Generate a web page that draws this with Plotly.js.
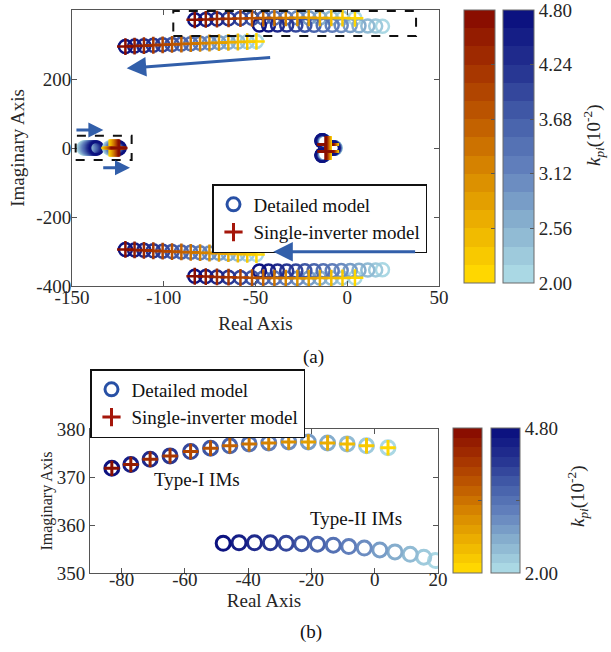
<!DOCTYPE html>
<html>
<head>
<meta charset="utf-8">
<script src="https://cdn.plot.ly/plotly-3.0.1.min.js"></script>
<style>html,body{margin:0;padding:0;background:#fff;}#chart{width:611px;height:652px;}</style>
</head>
<body>
<div id="chart"></div>
<script>
// ---------------- data ----------------
const kpi = [2.0, 2.2, 2.4, 2.6, 2.8, 3.0, 3.2, 3.4, 3.6, 3.8, 4.0, 4.2, 4.4, 4.6, 4.8];

// Type-I IMs (ordered kpi 2.0 -> 4.8)
const typeIRe = [4.2, -2.6, -8.7, -14.9, -21.0, -27.2, -33.5, -39.7, -45.8, -51.9, -58.2, -64.7, -71.0, -77.1, -83.1];
const typeIIm = [376.1, 376.5, 376.9, 377.1, 377.3, 377.3, 377.1, 376.9, 376.5, 376.0, 375.3, 374.4, 373.7, 372.6, 371.8];

// Type-II IMs (detailed model only)
const typeIIRe = [19.2, 15.5, 11.2, 6.4, 1.6, -3.3, -8.2, -13.1, -18.1, -23.1, -28.0, -33.0, -38.0, -42.9, -47.9];
const typeIIIm = [352.6, 353.3, 353.9, 354.4, 354.8, 355.2, 355.5, 355.8, 356.0, 356.1, 356.2, 356.3, 356.3, 356.3, 356.2];

// middle branch (~300j)
const midRe = [-49.5, -54.5, -59.6, -64.8, -69.9, -75.1, -80.2, -85.3, -90.4, -95.5, -100.6, -105.7, -110.8, -115.9, -120.9];
const midIm = [309, 308.2, 307.3, 306.4, 305.4, 304.4, 303.4, 302.3, 301.2, 300.1, 299, 297.8, 296.6, 295.3, 294];

// low-frequency cluster near -140
const lowCircRe = [-143.5, -143.0, -142.6, -142.1, -141.6, -141.1, -140.6, -140.1, -139.6, -139.1, -138.6, -138.1, -137.6, -137.1, -136.6];
const lowCircIm = [0, 0, 0, 0, 0, 0, 0, 0, 0, 0, 0, 0, 0, 0, 0];
const lowCrossRe = [-129.5, -129.1, -128.7, -128.3, -127.9, -127.5, -127.1, -126.7, -126.3, -125.9, -125.5, -125.2, -124.9, -124.6, -124.3];
const lowCrossIm = [0, 0, 0, 0, 0, 0, 0, 0, 0, 0, 0, 0, 0, 0, 0];

// cluster near -12
const nearRe = [-12.4, -12.5, -12.6, -12.7, -12.8, -12.9, -13.0, -13.1, -13.2, -13.3, -13.4, -13.5, -13.6, -13.7, -13.8];
const nearIm = [18.0, 18.2, 18.4, 18.6, 18.8, 19.0, 19.2, 19.4, 19.6, 19.8, 20.0, 20.2, 20.4, 20.6, 20.8];
const realRe = [-6.6, -6.7, -6.8, -6.9, -7.0, -7.1, -7.2, -7.3, -7.4, -7.5, -7.6, -7.7, -7.8, -7.9, -8.0];
const realIm = [0, 0, 0, 0, 0, 0, 0, 0, 0, 0, 0, 0, 0, 0, 0];
const nearCrossRe = [-9.0, -9.2, -9.4, -9.6, -9.8, -10.0, -10.2, -10.4, -10.6, -10.8, -11.0, -11.2, -11.4, -11.6, -11.8];
const nearCrossIm = [10, 10, 10, 10, 10, 10, 10, 10, 10, 10, 10, 10, 10, 10, 10];

const cbTickVals = [2.00, 2.56, 3.12, 3.68, 4.24, 4.80];
const cbTickText = ['2.00', '2.56', '3.12', '3.68', '4.24', '4.80'];
const x1Ticks = [-150, -100, -50, 0, 50];
const x1Text = ['-150', '-100', '-50', '0', '50'];
const y1Ticks = [-400, -200, 0, 200, 400];
const y1Text = ['-400', '-200', '0', '200', '400'];
const x2Ticks = [-80, -60, -40, -20, 0, 20];
const x2Text = ['-80', '-60', '-40', '-20', '0', '20'];
const y2Ticks = [350, 360, 370, 380];
const y2Text = ['350', '360', '370', '380'];

// ---------------- style ----------------
const FONT = '"Liberation Serif", "Times New Roman", Times, serif';
const TXT = '#262626';
const blueAnchors = [[170,216,228],[135,176,206],[100,131,190],[70,96,170],[38,52,145],[12,18,128]];
const redAnchors  = [[255,215,0],[236,176,0],[216,136,0],[192,92,0],[166,52,0],[138,14,0]];
function interp(anchors, t) {
  const n = anchors.length - 1, p = t * n, i = Math.min(Math.floor(p), n - 1), f = p - i;
  const a = anchors[i], b = anchors[i + 1];
  return 'rgb(' + a.map((v, k) => Math.round(v + (b[k] - v) * f)).join(',') + ')';
}
function discreteScale(anchors, nb) {
  const cs = [];
  for (let i = 0; i < nb; i++) {
    const c = interp(anchors, i / (nb - 1));
    cs.push([i / nb, c]); cs.push([(i + 1) / nb, c]);
  }
  return cs;
}
const NB = kpi.length;
const blueScale = discreteScale(blueAnchors, NB);
const redScale = discreteScale(redAnchors, NB);
const neg = a => a.map(v => -v);

const W = 611, H = 652;
const px = v => v / W, py = v => 1 - v / H;

function circ(x, y, xa, ya, size, lw, cb) {
  const m = {symbol: 'circle-open', size: size, color: kpi, colorscale: blueScale, cmin: 2, cmax: 4.8,
             line: {width: lw}, showscale: !!cb};
  if (cb) m.colorbar = cb;
  return {type: 'scatter', mode: 'markers', x: x, y: y, xaxis: xa, yaxis: ya, showlegend: false,
          hoverinfo: 'skip', marker: m};
}
function cross(x, y, xa, ya, size, lw, cb) {
  const m = {symbol: 'cross-thin-open', size: size, color: kpi, colorscale: redScale, cmin: 2, cmax: 4.8,
             line: {width: lw}, showscale: !!cb};
  if (cb) m.colorbar = cb;
  return {type: 'scatter', mode: 'markers', x: x, y: y, xaxis: xa, yaxis: ya, showlegend: false,
          hoverinfo: 'skip', marker: m};
}
function cbar(x, thick, top, len, labels, tv, tt) {
  return {x: px(x), xanchor: 'left', xpad: 0, ypad: 0, thickness: thick, thicknessmode: 'pixels',
          y: py(top), yanchor: 'top', len: len, lenmode: 'pixels',
          outlinecolor: '#6a6a6a', outlinewidth: 1,
          tickmode: 'array', tickvals: tv, ticktext: tt, ticks: 'inside', ticklen: 4, tickcolor: '#555',
          ticklabeloverflow: 'allow',
          showticklabels: labels, tickfont: {family: FONT, size: 19, color: TXT}};
}

const S1 = 13, L1 = 2.5, C1 = 12;
const traces = [
  // top subplot circles
  circ(typeIRe, typeIIm, 'x', 'y', S1, L1, cbar(503, 31, 10, 273, true, cbTickVals, cbTickText)),
  circ(typeIIRe, typeIIIm, 'x', 'y', S1, L1),
  circ(midRe, midIm, 'x', 'y', S1, L1),
  circ(typeIRe, neg(typeIIm), 'x', 'y', S1, L1),
  circ(typeIIRe, neg(typeIIIm), 'x', 'y', S1, L1),
  circ(midRe, neg(midIm), 'x', 'y', S1, L1),
  circ(lowCircRe, lowCircIm, 'x', 'y', S1, L1),
  circ(lowCrossRe, lowCrossIm, 'x', 'y', S1, L1),
  circ(nearRe, nearIm, 'x', 'y', S1, L1),
  circ(nearRe, neg(nearIm), 'x', 'y', S1, L1),
  circ(realRe, realIm, 'x', 'y', S1, L1),
  // top subplot crosses
  cross(typeIRe, typeIIm, 'x', 'y', C1, L1, cbar(464, 31, 10, 273, false, cbTickVals, cbTickText)),
  cross(midRe, midIm, 'x', 'y', C1, L1),
  cross(typeIRe, neg(typeIIm), 'x', 'y', C1, L1),
  cross(midRe, neg(midIm), 'x', 'y', C1, L1),
  cross(lowCrossRe, lowCrossIm, 'x', 'y', C1, L1),
  cross(nearCrossRe, nearCrossIm, 'x', 'y', C1, L1),
  cross(nearCrossRe, neg(nearCrossIm), 'x', 'y', C1, L1),
  // bottom subplot
  circ(typeIRe, typeIIm, 'x2', 'y2', 14, 3, cbar(491, 29, 428, 145, true, [2, 3.4, 4.8], ['2.00', '', '4.80'])),
  circ(typeIIRe, typeIIIm, 'x2', 'y2', 14, 3),
  cross(typeIRe, typeIIm, 'x2', 'y2', 11, 3, cbar(453, 29, 428, 145, false, [2, 3.4, 4.8], ['2.00', '', '4.80'])),
  // legend entries
  {type: 'scatter', mode: 'markers', x: [null], y: [null], xaxis: 'x', yaxis: 'y', name: 'Detailed model',
   legend: 'legend', marker: {symbol: 'circle-open', size: 13, color: 'rgb(40,80,165)', line: {width: 3}}},
  {type: 'scatter', mode: 'markers', x: [null], y: [null], xaxis: 'x', yaxis: 'y', name: 'Single-inverter model',
   legend: 'legend', marker: {symbol: 'cross-thin-open', size: 13, color: 'rgb(165,22,10)', line: {width: 3}}},
  {type: 'scatter', mode: 'markers', x: [null], y: [null], xaxis: 'x2', yaxis: 'y2', name: 'Detailed model',
   legend: 'legend2', marker: {symbol: 'circle-open', size: 13, color: 'rgb(40,80,165)', line: {width: 3}}},
  {type: 'scatter', mode: 'markers', x: [null], y: [null], xaxis: 'x2', yaxis: 'y2', name: 'Single-inverter model',
   legend: 'legend2', marker: {symbol: 'cross-thin-open', size: 13, color: 'rgb(165,22,10)', line: {width: 3}}}
];

const axBase = {showgrid: false, zeroline: false, showline: true, linecolor: '#555', linewidth: 1,
  ticks: 'inside', ticklen: 5, tickcolor: '#555', mirror: 'allticks',
  tickfont: {family: FONT, size: 19, color: TXT}, tickmode: 'array'};

const arrowC = 'rgb(50,95,170)';
function arrow(xh, yh, xt, yt, w, s) {
  return {xref: 'x', yref: 'y', axref: 'x', ayref: 'y', x: xh, y: yh, ax: xt, ay: yt, text: '',
          showarrow: true, arrowhead: 2, arrowsize: s, arrowwidth: w, arrowcolor: arrowC};
}
const cbTitle = '<i>k</i><sub><i>pi</i></sub>(10<sup>-2</sup>)';

const layout = {
  width: W, height: H, margin: {l: 0, r: 0, t: 0, b: 0},
  paper_bgcolor: '#fff', plot_bgcolor: '#fff',
  font: {family: FONT, size: 19, color: TXT},
  xaxis: Object.assign({}, axBase, {domain: [px(72), px(439)], range: [-150, 50], anchor: 'y',
    tickvals: x1Ticks, ticktext: x1Text, ticklabelstandoff: -6,
    title: {text: 'Real Axis', standoff: 9, font: {family: FONT, size: 19, color: TXT}}}),
  yaxis: Object.assign({}, axBase, {domain: [py(286), py(10)], range: [-400, 400], anchor: 'x',
    tickvals: y1Ticks, ticktext: y1Text, ticklabelstandoff: -4,
    title: {text: 'Imaginary Axis', standoff: 6, font: {family: FONT, size: 19, color: TXT}}}),
  xaxis2: Object.assign({}, axBase, {domain: [px(90), px(438)], range: [-90, 20], anchor: 'y2',
    tickvals: x2Ticks, ticktext: x2Text, ticklabelstandoff: -11,
    title: {text: 'Real Axis', standoff: 0, font: {family: FONT, size: 19, color: TXT}}}),
  yaxis2: Object.assign({}, axBase, {domain: [py(573), py(429)], range: [350, 380], anchor: 'x2',
    tickvals: y2Ticks, ticktext: y2Text,
    title: {text: 'Imaginary Axis', standoff: 0, font: {family: FONT, size: 16, color: TXT}}}),
  legend: {x: px(212), y: py(184), xanchor: 'left', yanchor: 'top', bgcolor: '#fff', bordercolor: '#111',
    borderwidth: 1.5, font: {family: FONT, size: 19, color: '#111'}, tracegroupgap: 0, itemwidth: 30},
  legend2: {x: px(90), y: py(369), xanchor: 'left', yanchor: 'top', bgcolor: '#fff', bordercolor: '#111',
    borderwidth: 1.5, font: {family: FONT, size: 19, color: '#111'}, tracegroupgap: 0, itemwidth: 30},
  shapes: [
    {type: 'rect', xref: 'x', yref: 'y', x0: -94.8, x1: 37.5, y0: 324.6, y1: 397, line: {color: '#111', width: 2, dash: 'dash'}},
    {type: 'rect', xref: 'x', yref: 'y', x0: -148, x1: -117.5, y0: -34.8, y1: 35.6, line: {color: '#111', width: 2, dash: 'dash'}}
  ],
  annotations: [
    arrow(-120.2, 231, -41.2, 262.9, 3, 1.3),
    arrow(-40.3, -300.6, 37.8, -300.6, 3, 1.3),
    arrow(-132.9, 52.2, -148.4, 52.2, 3, 1),
    arrow(-118.4, -57, -133.8, -57, 3, 1),
    {xref: 'x2', yref: 'y2', x: -56.3, y: 369.4, text: 'Type-I IMs', showarrow: false, font: {family: FONT, size: 19, color: '#111'}},
    {xref: 'x2', yref: 'y2', x: -5.8, y: 361.4, text: 'Type-II IMs', showarrow: false, font: {family: FONT, size: 19, color: '#111'}},
    {xref: 'paper', yref: 'paper', x: px(593), y: py(135), xanchor: 'center', yanchor: 'middle', textangle: -90,
     text: cbTitle, showarrow: false, font: {family: FONT, size: 19, color: TXT}},
    {xref: 'paper', yref: 'paper', x: px(577), y: py(496), xanchor: 'center', yanchor: 'middle', textangle: -90,
     text: cbTitle, showarrow: false, font: {family: FONT, size: 19, color: TXT}},
    {xref: 'paper', yref: 'paper', x: px(313), y: py(357), xanchor: 'center', yanchor: 'middle', text: '(a)', showarrow: false, font: {family: FONT, size: 19, color: '#111'}},
    {xref: 'paper', yref: 'paper', x: px(311), y: py(632), xanchor: 'center', yanchor: 'middle', text: '(b)', showarrow: false, font: {family: FONT, size: 19, color: '#111'}}
  ]
};

Plotly.newPlot('chart', traces, layout, {displayModeBar: false, staticPlot: true});
</script>
</body>
</html>
